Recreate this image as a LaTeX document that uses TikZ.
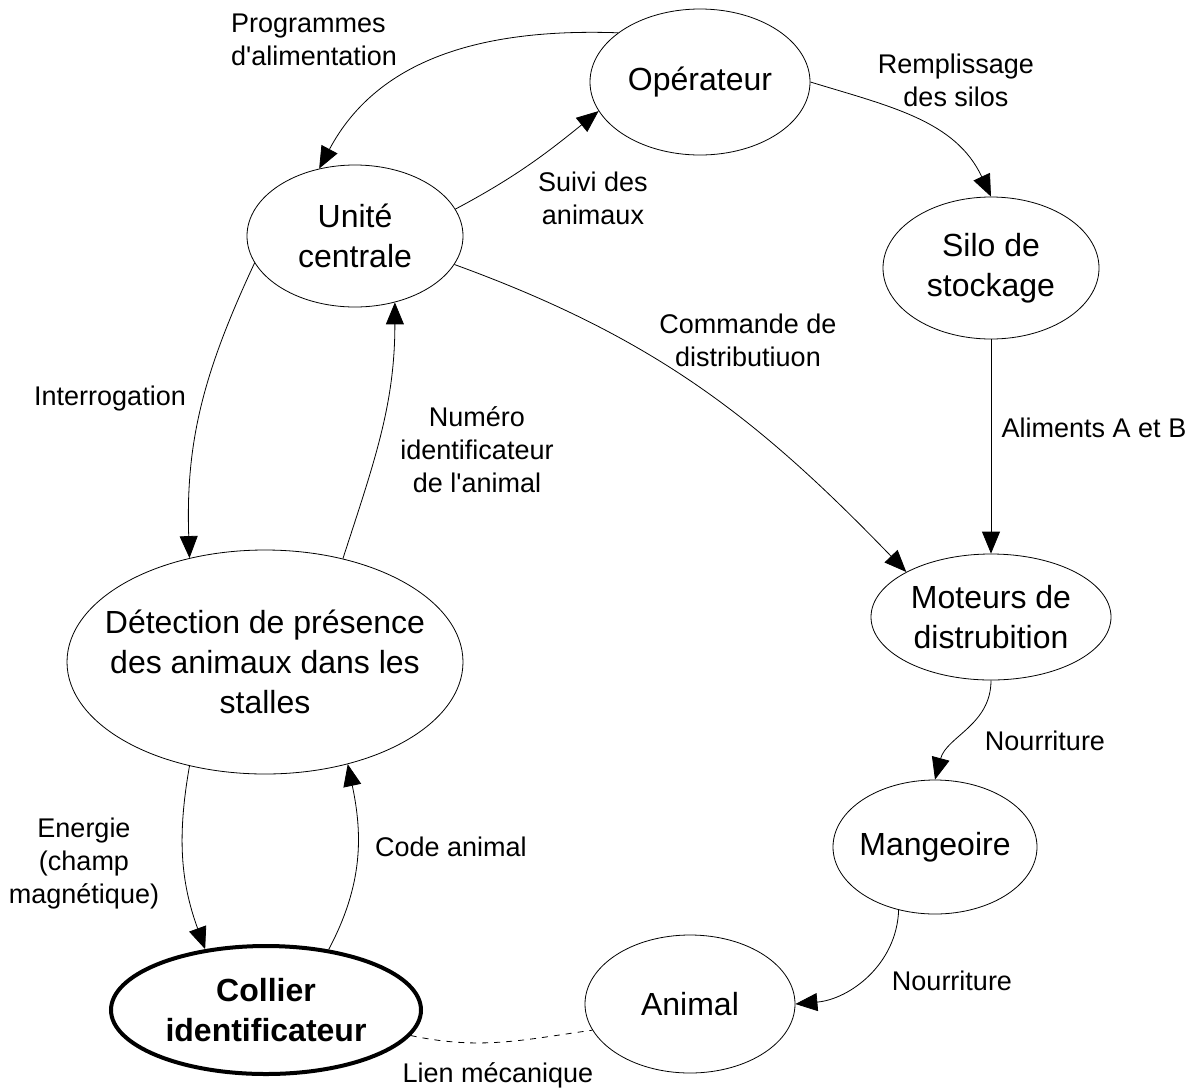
\documentclass[tikz,border=0pt]{standalone}
\usepackage{fontspec}
\setmainfont{Liberation Sans}
\usepackage{tikz}
\usetikzlibrary{shapes.geometric}
\usetikzlibrary{arrows.meta}

\begin{document}
\begin{tikzpicture}[x=0.5pt, y=-0.5pt, every node/.style={ellipse, draw, inner sep=-2em, align=center, font=\fontsize{16}{20}\selectfont},
	lab/.style={draw=none, shape=rectangle, inner sep=0pt, font=\fontsize{13.5}{16.5}\selectfont},
	fl/.style={-{Triangle[length=11pt, width=9pt]}}]
			\useasboundingbox (0,0) rectangle (1200,1088);
			% Nodes
			\node[minimum width=110pt, minimum height=73pt] (1) at (700,82) {Opérateur};
			\node[minimum width=108pt, minimum height=71pt] (2) at (355,236) {Unité\\centrale};
			\node[minimum width=108pt, minimum height=71pt] (3) at (991,268) {Silo de\\stockage};
			\node[minimum width=198pt, minimum height=112pt] (4) at (265,662) {Détection de présence\\des animaux dans les\\stalles};
			\node[minimum width=120pt, minimum height=63pt] (5) at (991,617) {Moteurs de\\distrubition};
			\node[minimum width=102pt, minimum height=67pt] (6) at (935,847) {Mangeoire};
			\node[minimum width=105pt, minimum height=69pt] (7) at (690,1004) {Animal};
			\node[minimum width=155pt, minimum height=64pt, line width=2pt, font=\fontsize{16}{20}\selectfont\bfseries] (8) at (266,1010) {Collier\\identificateur};
			% Edges with labels
			\draw[fl] (1.149) to[out=178, in=62] (2.118);
			\draw[fl] (2.15) to[out=28, in=219] (1.196);
			\draw[fl] (1.0) to[out=-17, in=115] (3.90);
			\draw[fl] (2.-16) to[out=-20, in=134] (5.152);
			\draw[fl] (3) -- (5);
			\draw[fl] (2.195) to[out=-115, in=92] (4.126);
			\draw[fl] (4.53) to[out=72, in=-90] (2.-59);
			\draw[fl] (5.-90) to[out=-90, in=75] (6.90);
			\draw[fl] (6.240) to[out=-92, in=5] (7.0);
			\draw[fl] (4.234) to[out=-100, in=110] (8.135);
			\draw[fl] (8.44) to[out=62, in=-78] (4.-51);
			\draw[dashed] (8.-10) to[out=-12, in=188] (7.195);
			\node[lab, align=left] (l1) at (314,40) {Programmes\\d\textquotesingle alimentation};
			\node[lab] (l2) at (593,198) {Suivi des\\animaux};
			\node[lab] (l3) at (956,80) {Remplissage\\des silos};
			\node[lab] (l4) at (748,340) {Commande de\\distributiuon};
			\node[lab] (l5) at (110,399) {Interrogation};
			\node[lab] (l6) at (477,450) {Numéro\\identificateur\\de l\textquotesingle animal};
			\node[lab] (l7) at (1094,428) {Aliments A et B};
			\node[lab] (l8) at (1045,741) {Nourriture};
			\node[lab] (l9) at (84,864) {Energie\\(champ\\magnétique)};
			\node[lab] (l10) at (451,847) {Code animal};
			\node[lab] (l11) at (952,981) {Nourriture};
			\node[lab] (l12) at (498,1075) {Lien mécanique};
		\end{tikzpicture}
\end{document}
